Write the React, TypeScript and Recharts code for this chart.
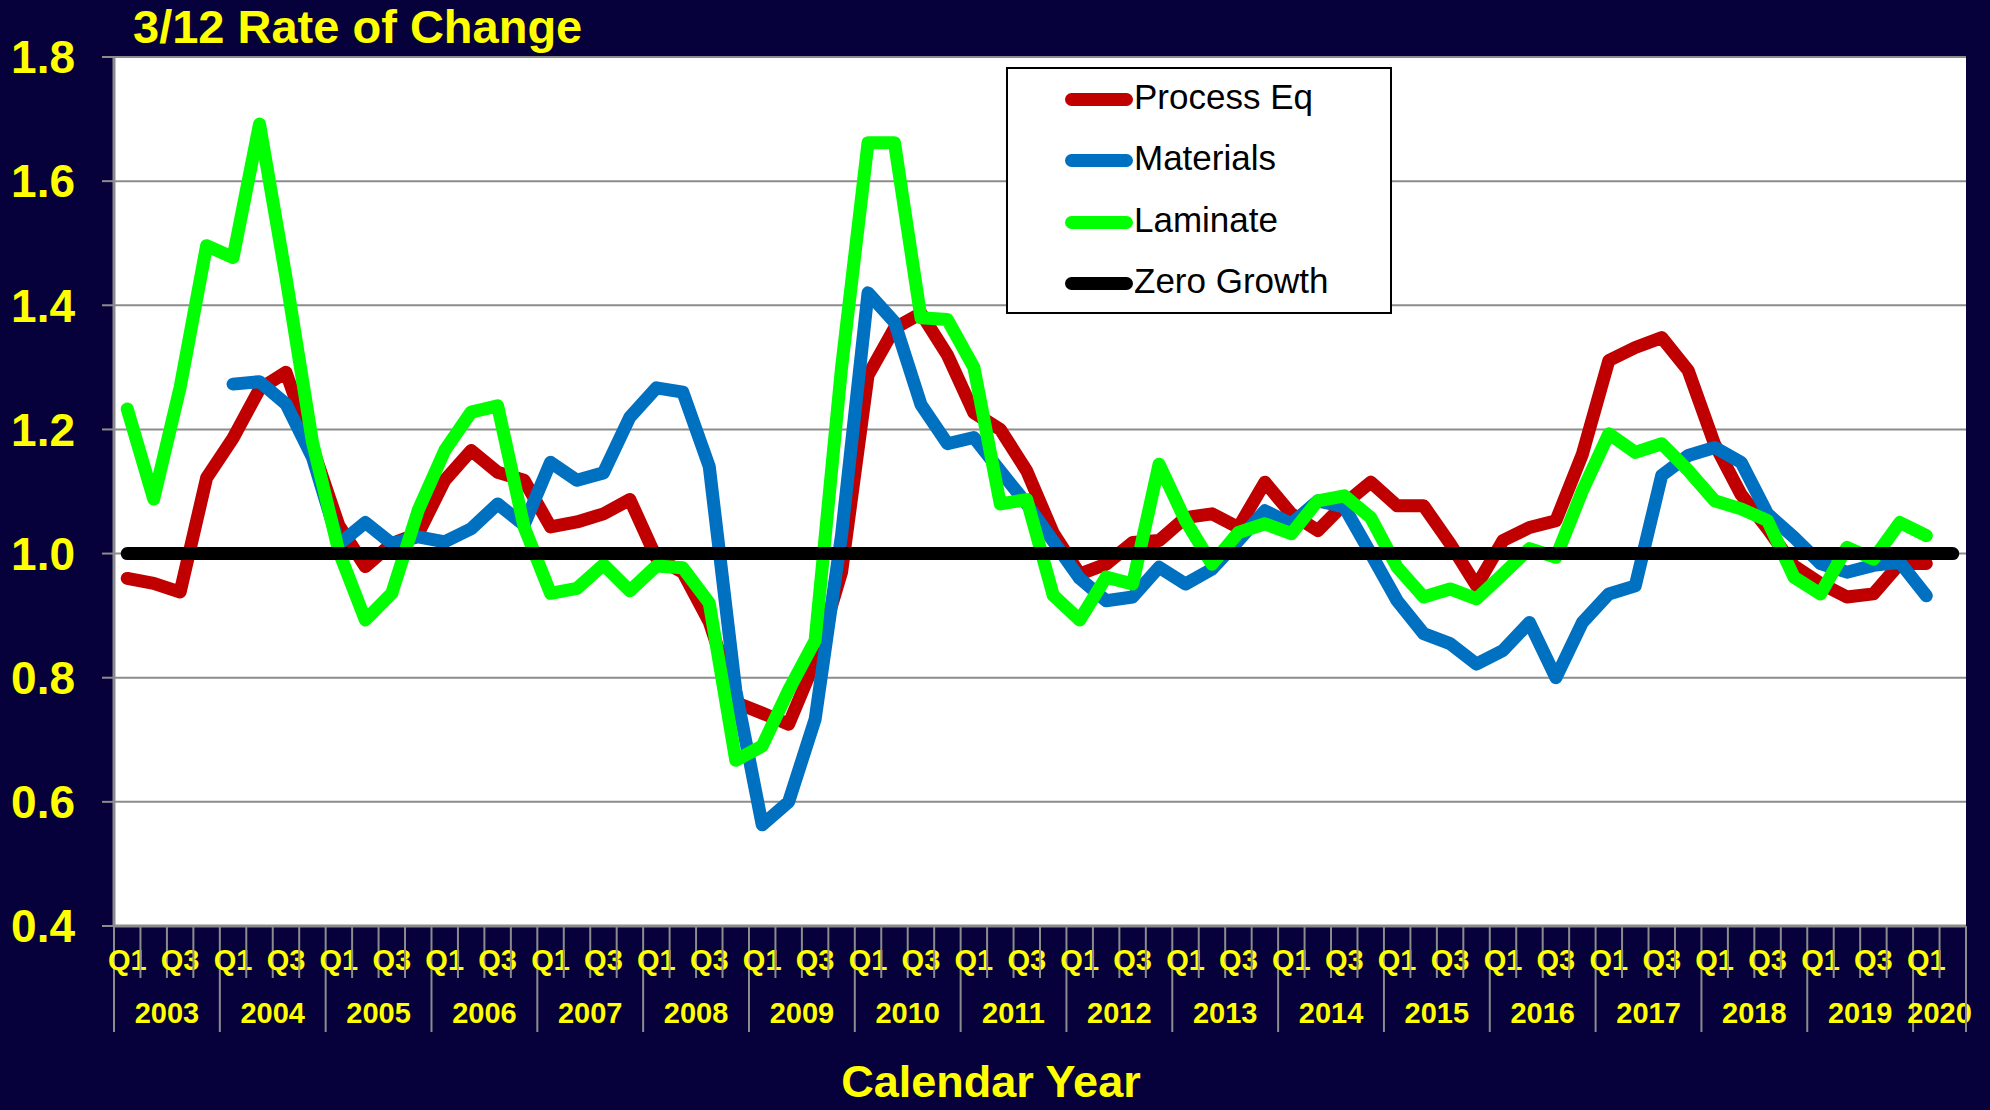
import React from 'react';
import { LineChart, Line, XAxis, YAxis, CartesianGrid, Legend } from 'recharts';

// quarterly 3/12 rate of change, Q1 2003 .. Q1 2020
const years = ['2003', '2004', '2005', '2006', '2007', '2008', '2009', '2010', '2011', '2012', '2013', '2014', '2015', '2016', '2017', '2018', '2019', '2020'];
const quarters = ['Q1', 'Q2', 'Q3', 'Q4'];
const quarters2020 = ['Q1', 'Q2'];
const yTicks = [0.4, 0.6, 0.8, 1.0, 1.2, 1.4, 1.6, 1.8];
const seriesOrder = ['Process Eq', 'Materials', 'Laminate', 'Zero Growth'];

const processEq = [
    0.96, 0.952, 0.938, 1.122, 1.186, 1.265, 1.292, 1.171,
    1.045, 0.979, 1.016, 1.032, 1.118, 1.166, 1.131, 1.118,
    1.043, 1.051, 1.064, 1.087, 0.993, 0.97, 0.89, 0.76,
    0.743, 0.725, 0.827, 0.97, 1.287, 1.363, 1.387, 1.32,
    1.227, 1.2, 1.133, 1.033, 0.967, 0.983, 1.018, 1.021,
    1.058, 1.064, 1.042, 1.115, 1.064, 1.037, 1.08, 1.115,
    1.077, 1.077, 1.016, 0.948, 1.021, 1.042, 1.053, 1.16,
    1.311, 1.332, 1.348, 1.295, 1.176, 1.095, 1.04, 0.98,
    0.952, 0.93, 0.935, 0.984, 0.984,
];

const materials = [
    null, null, null, null, 1.273, 1.277, 1.241, 1.155,
    1.015, 1.05, 1.016, 1.027, 1.019, 1.04, 1.08, 1.046,
    1.147, 1.118, 1.13, 1.22, 1.267, 1.26, 1.14, 0.78,
    0.563, 0.6, 0.733, 1.03, 1.42, 1.373, 1.24, 1.177,
    1.187, 1.133, 1.08, 1.02, 0.96, 0.924, 0.93, 0.978,
    0.951, 0.975, 1.021, 1.069, 1.048, 1.085, 1.075, 1.0,
    0.924, 0.871, 0.855, 0.822, 0.844, 0.889, 0.8, 0.889,
    0.935, 0.948, 1.126, 1.158, 1.171, 1.147, 1.064, 1.026,
    0.984, 0.97, 0.981, 0.986, 0.932,
];

const laminate = [
    1.233, 1.088, 1.268, 1.496, 1.477, 1.692, 1.445, 1.18,
    1.003, 0.893, 0.936, 1.07, 1.166, 1.228, 1.238, 1.043,
    0.936, 0.944, 0.982, 0.94, 0.98, 0.977, 0.92, 0.667,
    0.69, 0.78, 0.86, 1.3, 1.662, 1.662, 1.38, 1.377,
    1.3, 1.08, 1.087, 0.933, 0.893, 0.962, 0.951, 1.144,
    1.053, 0.983, 1.034, 1.048, 1.032, 1.085, 1.093, 1.058,
    0.978, 0.93, 0.943, 0.927, 0.967, 1.008, 0.994, 1.101,
    1.193, 1.163, 1.177, 1.134, 1.085, 1.072, 1.053, 0.962,
    0.935, 1.01, 0.991, 1.05, 1.029,
];

const zeroGrowth = [
    1, 1, 1, 1, 1, 1, 1, 1, 1, 1, 1, 1, 1, 1, 1, 1, 1, 1, 1, 1,
    1, 1, 1, 1, 1, 1, 1, 1, 1, 1, 1, 1, 1, 1, 1, 1, 1, 1, 1, 1,
    1, 1, 1, 1, 1, 1, 1, 1, 1, 1, 1, 1, 1, 1, 1, 1, 1, 1, 1, 1,
    1, 1, 1, 1, 1, 1, 1, 1, 1, 1,
];

const categories: string[] = [];
years.forEach((yr) => (yr === '2020' ? quarters2020 : quarters).forEach((q) => categories.push(`${q} ${yr}`)));

const data = categories.map((cat, i) => ({
    cat,
    processEq: processEq[i] ?? null,
    materials: materials[i] ?? null,
    laminate: laminate[i] ?? null,
    zero: zeroGrowth[i] ?? null,
}));

const W = 1990;
const H = 1110;
const LEFT = 114;
const RIGHT = 24;
const BAND = (W - LEFT - RIGHT) / categories.length;
const FONT = '"Liberation Sans", Arial, sans-serif';
const YELLOW = '#FFFF00';
const GRAY = '#8c8c8c';

const QuarterTick = (props: any) => {
    const { x, y, payload, index } = props;
    const [q, yr] = String(payload.value).split(' ');
    const half = BAND / 2;
    const yearStart = q === 'Q1';
    const nq = yr === '2020' ? 2 : 4;
    return (
        <g>
            <line x1={x - half} x2={x - half} y1={y} y2={y + (yearStart ? 106 : 52)} stroke={GRAY} strokeWidth={2} />
            {index === categories.length - 1 && (
                <line x1={x + half} x2={x + half} y1={y} y2={y + 106} stroke={GRAY} strokeWidth={2} />
            )}
            {(q === 'Q1' || q === 'Q3') && (
                <text x={x} y={y + 44} textAnchor="middle" fill={YELLOW} fontSize={29} fontWeight="bold" fontFamily={FONT}>
                    {q}
                </text>
            )}
            {yearStart && (
                <text x={x - half + nq * half} y={y + 97} textAnchor="middle" fill={YELLOW} fontSize={29} fontWeight="bold" fontFamily={FONT}>
                    {yr}
                </text>
            )}
        </g>
    );
};

const renderLegend = (props: any) => {
    const rows = [31, 92, 154, 215];
    const items = [...(props.payload || [])].sort(
        (a: any, b: any) => seriesOrder.indexOf(a.value) - seriesOrder.indexOf(b.value),
    );
    return (
        <div style={{ position: 'relative', width: 386, height: 247, boxSizing: 'border-box', border: '2px solid #000', background: '#fff' }}>
            {items.map((entry: any, i: number) => (
                <React.Fragment key={entry.value}>
                    <div style={{ position: 'absolute', left: 57, top: rows[i] - 7, width: 68, height: 13, borderRadius: 7, background: entry.color }} />
                    <div style={{ position: 'absolute', left: 126, top: rows[i] - 21, lineHeight: '35px', fontSize: 35, fontFamily: FONT, color: '#000', whiteSpace: 'nowrap' }}>
                        {entry.value}
                    </div>
                </React.Fragment>
            ))}
        </div>
    );
};

const App = () => {
    return (
        <div style={{ position: 'absolute', left: 0, top: 0, width: W, height: H, background: '#06013A', overflow: 'hidden' }}>
            <LineChart width={W} height={H} data={data} margin={{ top: 57, right: RIGHT, bottom: 0, left: 0 }}>
                <CartesianGrid vertical={false} stroke={GRAY} strokeWidth={2} fill="#fff" />
                <XAxis
                    dataKey="cat"
                    scale="band"
                    interval={0}
                    height={184}
                    tickSize={0}
                    tickMargin={0}
                    tickLine={false}
                    axisLine={{ stroke: GRAY, strokeWidth: 3 }}
                    tick={<QuarterTick />}
                />
                <YAxis
                    domain={[0.4, 1.8]}
                    ticks={yTicks}
                    interval={0}
                    width={LEFT}
                    tickSize={12}
                    tickMargin={27}
                    axisLine={{ stroke: GRAY, strokeWidth: 3 }}
                    tickLine={{ stroke: GRAY, strokeWidth: 2 }}
                    tick={{ fill: YELLOW, fontSize: 46, fontWeight: 'bold', fontFamily: FONT }}
                    tickFormatter={(v: number) => v.toFixed(1)}
                />
                <Legend
                    layout="vertical"
                    align="center"
                    verticalAlign="middle"
                    content={renderLegend}
                    wrapperStyle={{ left: 1006, top: 67, width: 386, height: 247 }}
                />
                <Line type="linear" dataKey="processEq" name="Process Eq" stroke="#C00000" strokeWidth={13} strokeLinejoin="round" strokeLinecap="round" dot={false} activeDot={false} isAnimationActive={false} />
                <Line type="linear" dataKey="materials" name="Materials" stroke="#0070C0" strokeWidth={13} strokeLinejoin="round" strokeLinecap="round" dot={false} activeDot={false} isAnimationActive={false} />
                <Line type="linear" dataKey="laminate" name="Laminate" stroke="#00FF00" strokeWidth={13} strokeLinejoin="round" strokeLinecap="round" dot={false} activeDot={false} isAnimationActive={false} />
                <Line type="linear" dataKey="zero" name="Zero Growth" stroke="#000000" strokeWidth={13} strokeLinejoin="round" strokeLinecap="round" dot={false} activeDot={false} isAnimationActive={false} />
            </LineChart>
            <div style={{ position: 'absolute', left: 133, top: 3, fontSize: 47, lineHeight: 1, fontWeight: 'bold', fontFamily: FONT, color: YELLOW, whiteSpace: 'nowrap' }}>
                3/12 Rate of Change
            </div>
            <div style={{ position: 'absolute', left: 0, width: 1982, top: 1059, fontSize: 45, lineHeight: 1, fontWeight: 'bold', fontFamily: FONT, color: YELLOW, textAlign: 'center' }}>
                Calendar Year
            </div>
        </div>
    );
};

export default App;
